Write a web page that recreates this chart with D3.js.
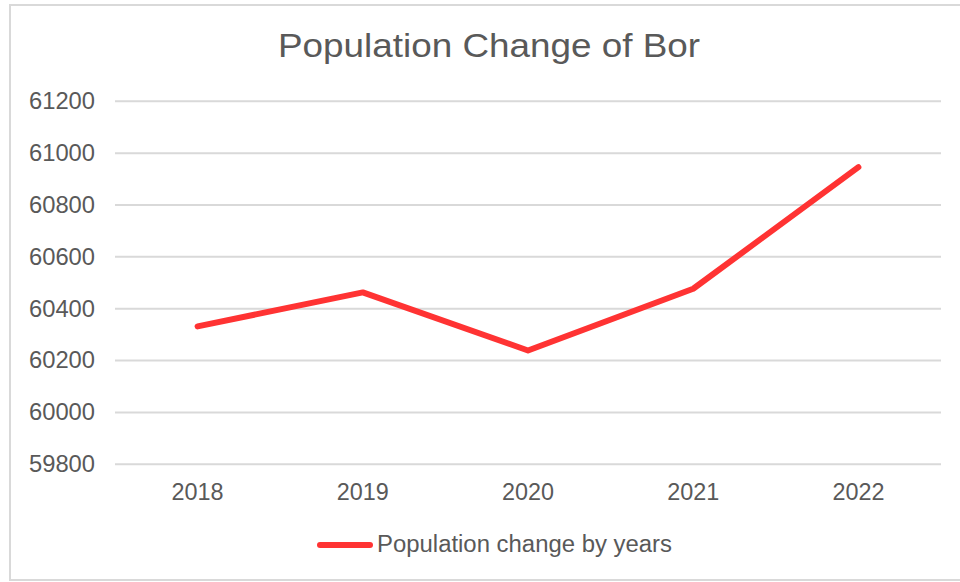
<!DOCTYPE html>
<head>
  <meta charset="utf-8">
  <script src="https://d3js.org/d3.v7.min.js"></script>
  <style>
    body { margin: 0; background: #fff; }
    text { font-family: "Liberation Sans", Arial, sans-serif; fill: #595959; }
    .title { font-size: 34px; }
    .axis text { font-size: 23px; }
    .legend text { font-size: 23px; }
    .grid line { stroke: #d9d9d9; stroke-width: 2px; }
  </style>
</head>
<body>
  <script>
    // data
    var years = ["2018", "2019", "2020", "2021", "2022"];
    var population = [60332, 60463, 60239, 60477, 60946];
    var yTicks = [59800, 60000, 60200, 60400, 60600, 60800, 61000, 61200];

    var width = 960, height = 582;
    var plot = { left: 115, right: 941, top: 101.3, bottom: 464.3 };

    var svg = d3.select("body").append("svg")
        .attr("width", width)
        .attr("height", height);

    // chart border
    svg.append("rect")
        .attr("x", 10).attr("y", 5)
        .attr("width", 960).attr("height", 575)
        .attr("fill", "#fff")
        .attr("stroke", "#d9d9d9")
        .attr("stroke-width", 2);

    var x = d3.scaleBand()
        .domain(years)
        .range([plot.left, plot.right]);

    var y = d3.scaleLinear()
        .domain([59800, 61200])
        .range([plot.bottom, plot.top]);

    // gridlines
    svg.append("g")
        .attr("class", "grid")
      .selectAll("line")
        .data(yTicks)
      .enter().append("line")
        .attr("x1", plot.left)
        .attr("x2", plot.right)
        .attr("y1", function(d) { return y(d); })
        .attr("y2", function(d) { return y(d); });

    // y axis labels
    var yAxis = svg.append("g")
        .attr("class", "axis y")
        .attr("transform", "translate(" + (plot.left + 8) + ",0)")
        .call(d3.axisLeft(y).tickValues(yTicks).tickSize(0).tickPadding(28).tickFormat(d3.format("d")));
    yAxis.select(".domain").remove();
    yAxis.selectAll("text")
        .attr("textLength", 66)
        .attr("lengthAdjust", "spacingAndGlyphs");

    // x axis labels
    var xAxis = svg.append("g")
        .attr("class", "axis x")
        .attr("transform", "translate(0," + plot.bottom + ")")
        .call(d3.axisBottom(x).tickSize(0).tickPadding(19));
    xAxis.select(".domain").remove();
    xAxis.selectAll("text")
        .attr("textLength", 52)
        .attr("lengthAdjust", "spacingAndGlyphs");

    svg.selectAll(".axis text").attr("fill", "#595959");

    // the line
    var line = d3.line()
        .x(function(d, i) { return x(years[i]) + x.bandwidth() / 2; })
        .y(function(d) { return y(d); });

    svg.append("path")
        .datum(population)
        .attr("fill", "none")
        .attr("stroke", "#ff3333")
        .attr("stroke-width", 6)
        .attr("stroke-linecap", "round")
        .attr("stroke-linejoin", "round")
        .attr("d", line);

    // title
    svg.append("text")
        .attr("class", "title")
        .attr("x", 489)
        .attr("y", 57)
        .attr("text-anchor", "middle")
        .attr("textLength", 422)
        .attr("lengthAdjust", "spacingAndGlyphs")
        .text("Population Change of Bor");

    // legend
    var legend = svg.append("g").attr("class", "legend");
    legend.append("line")
        .attr("x1", 320).attr("x2", 370)
        .attr("y1", 545).attr("y2", 545)
        .attr("stroke", "#ff3333")
        .attr("stroke-width", 6)
        .attr("stroke-linecap", "round");
    legend.append("text")
        .attr("x", 377)
        .attr("y", 552)
        .attr("textLength", 295)
        .attr("lengthAdjust", "spacingAndGlyphs")
        .text("Population change by years");
  </script>
</body>
